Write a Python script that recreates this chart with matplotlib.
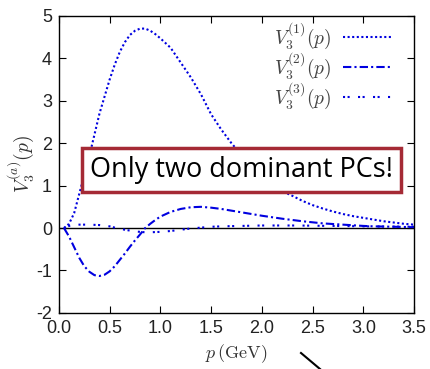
import numpy as np
import matplotlib.pyplot as plt
from matplotlib.lines import Line2D

plt.rcParams['mathtext.fontset'] = 'cm'
plt.rcParams['font.family'] = 'Liberation Sans'
plt.rcParams['axes.unicode_minus'] = False

# momentum grid (GeV)
p = [0.05, 0.1, 0.15, 0.2, 0.25, 0.3, 0.35, 0.4, 0.45, 0.5,
     0.55, 0.6, 0.65, 0.7, 0.75, 0.8, 0.85, 0.9, 0.95, 1.0,
     1.1, 1.2, 1.3, 1.4, 1.5, 1.6, 1.7, 1.8, 1.9, 2.0,
     2.1, 2.2, 2.3, 2.4, 2.5, 2.6, 2.7, 2.8, 2.9, 3.0,
     3.1, 3.2, 3.3, 3.4, 3.5]

# principal components
v1 = [0.0, 0.1, 0.35, 0.8, 1.25, 1.7, 2.2, 2.7, 3.1, 3.5,
      3.85, 4.15, 4.38, 4.55, 4.65, 4.7, 4.7, 4.65, 4.57, 4.47,
      4.25, 3.9, 3.55, 3.15, 2.68, 2.32, 2.0, 1.72, 1.45, 1.2,
      1.0, 0.87, 0.76, 0.64, 0.54, 0.46, 0.39, 0.33, 0.28, 0.24,
      0.2, 0.16, 0.13, 0.1, 0.08]
v2 = [0.0, -0.2, -0.45, -0.7, -0.9, -1.03, -1.11, -1.13, -1.1, -1.02,
      -0.9, -0.75, -0.6, -0.44, -0.29, -0.15, 0.0, 0.1, 0.19, 0.27,
      0.38, 0.45, 0.49, 0.5, 0.48, 0.45, 0.41, 0.37, 0.33, 0.29,
      0.255, 0.22, 0.19, 0.16, 0.135, 0.11, 0.095, 0.08, 0.065, 0.05,
      0.04, 0.035, 0.03, 0.025, 0.02]
v3 = [0.0, 0.05, 0.07, 0.08, 0.08, 0.08, 0.075, 0.07, 0.055, 0.04,
      0.01, -0.02, -0.04, -0.06, -0.08, -0.09, -0.1, -0.1, -0.095, -0.09,
      -0.07, -0.04, -0.01, 0.01, 0.03, 0.04, 0.045, 0.05, 0.055, 0.06,
      0.06, 0.06, 0.06, 0.058, 0.055, 0.052, 0.05, 0.047, 0.044, 0.04,
      0.038, 0.036, 0.034, 0.032, 0.03]

xticks = [0.0, 0.5, 1.0, 1.5, 2.0, 2.5, 3.0, 3.5]
yticks = [-2, -1, 0, 1, 2, 3, 4, 5]

fig = plt.figure(figsize=(4.3, 3.69), dpi=100)
ax = fig.add_axes([0.137, 0.152, 0.826, 0.805])

blue = '#0000e0'
ax.axhline(0, color='black', lw=1.0)
ax.plot(p, v1, color=blue, lw=1.5, ls=(0, (1, 1.2)), label=r'$V_3^{(1)}(p)$')
ax.plot(p, v2, color=blue, lw=1.5, ls=(0, (4, 1.5, 1, 1.5)), label=r'$V_3^{(2)}(p)$')
ax.plot(p, v3, color=blue, lw=1.5, ls=(0, (1, 1.2, 1, 4)), label=r'$V_3^{(3)}(p)$')

ax.set_xlim(0, 3.5)
ax.set_ylim(-2, 5)
ax.set_xticks(xticks)
ax.set_xticklabels(['%.1f' % x for x in xticks])
ax.set_yticks(yticks)
ax.tick_params(direction='in', top=True, right=True, length=5, labelsize=13,
               labelcolor='#222222', pad=5)
for s in ax.spines.values():
    s.set_linewidth(1.0)

ax.set_xlabel(r'$p\,(\mathrm{GeV})$', fontsize=13, color='#333333', labelpad=4)
ax.set_ylabel(r'$V_3^{(a)}(p)$', fontsize=14, color='#333333', labelpad=0)

leg = ax.legend(loc='upper right', frameon=False, markerfirst=False, fontsize=14,
                handlelength=2.5, handletextpad=0.6, labelspacing=-0.05,
                borderaxespad=0.0, bbox_to_anchor=(0.96, 1.012))
for t in leg.get_texts():
    t.set_color('#444444')

ax.text(0.515, 0.48, 'Only two dominant PCs!', transform=ax.transAxes,
        ha='center', va='center', fontsize=19.5, family='Open Sans',
        bbox=dict(boxstyle='square,pad=0.3', fc='white', ec='#a52a35', lw=2.5))

fig.add_artist(Line2D([301 / 430, 320 / 430], [1 - 353 / 369, 0],
                      transform=fig.transFigure, color='black', lw=1.5))

plt.savefig('out.png')
